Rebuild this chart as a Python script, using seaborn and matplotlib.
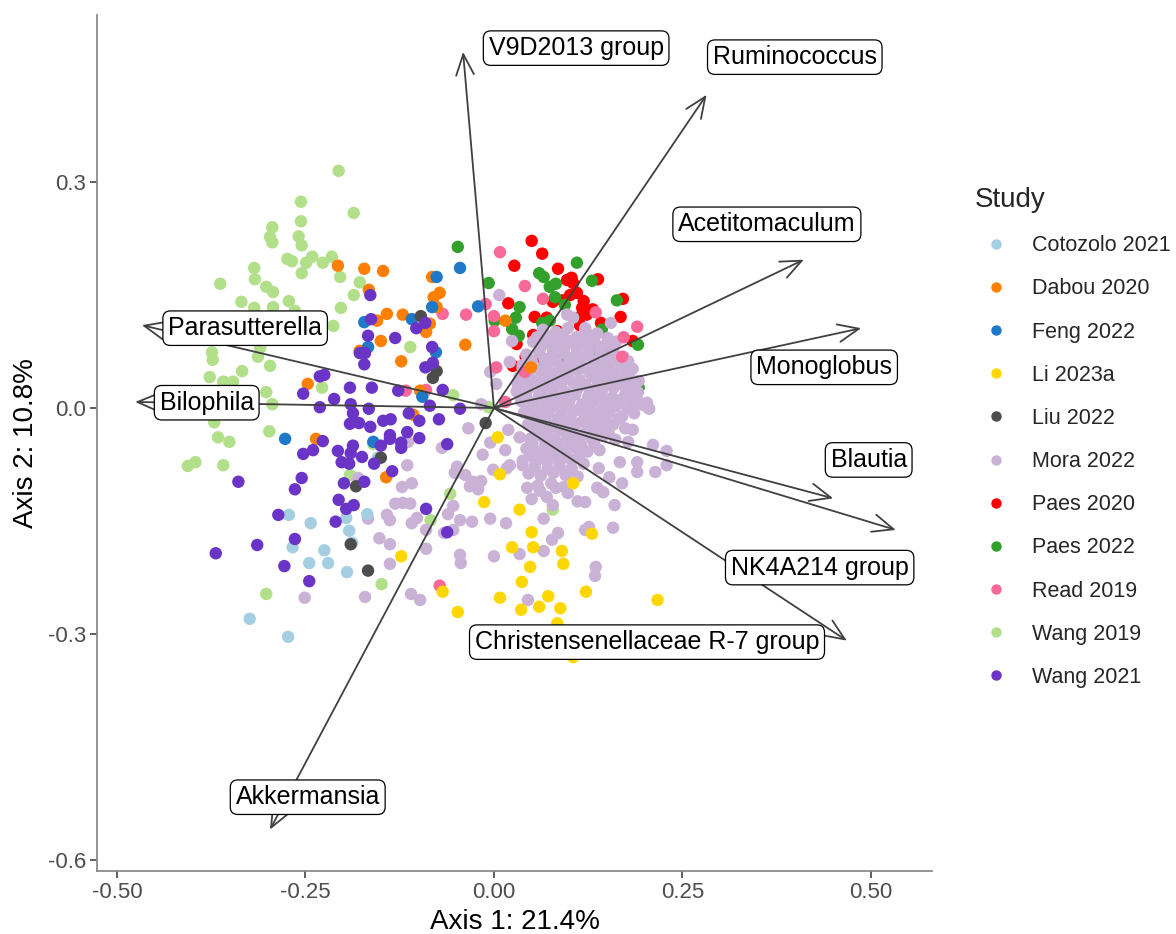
import numpy as np
import pandas as pd
import matplotlib
matplotlib.use("Agg")
import matplotlib.pyplot as plt
from matplotlib.lines import Line2D
import seaborn as sns

# ---------------- data ----------------
studies = ["Cotozolo 2021", "Dabou 2020", "Feng 2022", "Li 2023a", "Liu 2022",
           "Mora 2022", "Paes 2020", "Paes 2022", "Read 2019", "Wang 2019", "Wang 2021"]
colors = ["#A6CEE3", "#FF7F00", "#1F78C8", "#FFD700", "#4D4D4D",
          "#CAB2D6", "#FF0000", "#33A02C", "#F8699A", "#B2DF8A", "#6A35C6"]

wang2019_x = [-0.206, -0.256, -0.186, -0.256, -0.294, -0.297, -0.294, -0.259, -0.255, -0.274,
              -0.268, -0.241, -0.249, -0.227, -0.215, -0.255, -0.204, -0.318, -0.317, -0.363,
              -0.302, -0.293, -0.335, -0.272, -0.178, -0.186, -0.203, -0.318, -0.293, -0.264,
              -0.213, -0.310, -0.313, -0.373, -0.334, -0.297, -0.377, -0.359, -0.346, -0.228,
              -0.111, -0.054, -0.302, -0.294, -0.298, -0.366, -0.351, -0.406, -0.396, -0.359,
              -0.191, -0.160, -0.058, -0.084, -0.149, -0.302, -0.007, 0.078, -0.374, -0.371]
wang2019_y = [0.315, 0.274, 0.259, 0.248, 0.240, 0.227, 0.220, 0.228, 0.216, 0.198,
              0.195, 0.201, 0.193, 0.193, 0.201, 0.179, 0.174, 0.186, 0.171, 0.165,
              0.161, 0.154, 0.141, 0.142, 0.167, 0.150, 0.133, 0.133, 0.134, 0.129,
              0.109, 0.080, 0.068, 0.064, 0.049, 0.056, 0.041, 0.035, 0.035, 0.027,
              0.081, 0.017, 0.021, 0.005, -0.031, -0.039, -0.045, -0.077, -0.072, -0.076,
              -0.089, -0.048, -0.114, -0.149, -0.234, -0.247, 0.001, -0.135, 0.074, -0.019]

wang2021_x = [-0.164, -0.163, -0.167, -0.178, -0.171, -0.172, -0.131, -0.103, -0.091, -0.082,
              -0.081, -0.091, -0.231, -0.225, -0.253, -0.212, -0.191, -0.162, -0.127, -0.068,
              -0.190, -0.231, -0.166, -0.085, -0.187, -0.147, -0.137, -0.113, -0.073, -0.099,
              -0.191, -0.179, -0.164, -0.115, -0.138, -0.138, -0.123, -0.123, -0.099, -0.062,
              -0.150, -0.187, -0.190, -0.207, -0.227, -0.240, -0.253, -0.175, -0.202, -0.192,
              -0.159, -0.135, -0.172, -0.199, -0.255, -0.264, -0.339, -0.206, -0.196, -0.186,
              -0.286, -0.210, -0.090, -0.062, -0.264, -0.314, -0.369, -0.278, -0.245, -0.045]
wang2021_y = [0.150, 0.118, 0.096, 0.073, 0.073, 0.058, 0.093, 0.106, 0.113, 0.081,
              0.060, 0.054, 0.042, 0.044, 0.019, 0.012, 0.027, 0.027, 0.023, 0.024,
              0.005, 0.001, -0.001, 0.003, -0.007, -0.017, -0.015, -0.007, -0.015, -0.017,
              -0.021, -0.020, -0.025, -0.032, -0.036, -0.041, -0.046, -0.053, -0.040, -0.048,
              -0.050, -0.050, -0.060, -0.057, -0.044, -0.056, -0.061, -0.065, -0.072, -0.074,
              -0.074, -0.084, -0.098, -0.100, -0.093, -0.108, -0.098, -0.122, -0.134, -0.129,
              -0.142, -0.151, -0.134, -0.165, -0.174, -0.182, -0.193, -0.210, -0.230, -0.001]

cotozolo_x = [-0.272, -0.243, -0.196, -0.168, -0.192, -0.267, -0.225, -0.245, -0.220, -0.195,
              -0.188, -0.324, -0.273, -0.154]
cotozolo_y = [-0.142, -0.153, -0.146, -0.141, -0.163, -0.185, -0.189, -0.206, -0.206, -0.218,
              -0.179, -0.280, -0.304, -0.066]

dabou_x = [-0.207, -0.172, -0.147, -0.166, -0.142, -0.121, -0.155, -0.150, -0.178, -0.123,
           -0.090, -0.085, -0.080, -0.072, -0.076, -0.082, -0.247, -0.098, -0.038, 0.015,
           -0.236, -0.143, -0.107, 0.049]
dabou_y = [0.189, 0.185, 0.182, 0.157, 0.125, 0.124, 0.116, 0.089, 0.076, 0.062,
           0.101, 0.112, 0.147, 0.153, 0.134, 0.174, 0.032, 0.023, 0.084, 0.116,
           -0.041, -0.092, -0.009, 0.054]

feng_x = [-0.172, -0.167, -0.077, -0.076, -0.082, -0.109, -0.045, -0.021, -0.095, -0.277,
          -0.160]
feng_y = [0.114, 0.081, 0.074, 0.174, 0.134, 0.118, 0.186, 0.135, 0.015, -0.041,
          -0.045]

paes2022_x = [-0.048, -0.007, 0.060, 0.066, 0.074, 0.082, 0.110, 0.130, 0.081, 0.094,
              0.034, 0.029, 0.001, 0.064, 0.074, 0.024, 0.033, 0.143, 0.163, 0.191,
              0.069, 0.093, 0.131, 0.192]
paes2022_y = [0.214, 0.166, 0.179, 0.174, 0.161, 0.165, 0.193, 0.169, 0.147, 0.137,
              0.134, 0.120, 0.116, 0.113, 0.116, 0.105, 0.096, 0.104, 0.143, 0.084,
              0.061, 0.068, 0.076, 0.027]

paes2020_x = [0.050, 0.064, 0.027, 0.085, 0.097, 0.103, 0.105, 0.138, 0.110, 0.101,
              0.119, 0.117, 0.123, 0.114, 0.019, 0.054, 0.070, 0.078, 0.091, 0.084,
              0.052, 0.064, 0.030, 0.142, 0.168, 0.171, 0.143, 0.184, 0.042, 0.025,
              0.058, 0.078, 0.090, 0.114, 0.131]
paes2020_y = [0.222, 0.205, 0.189, 0.185, 0.170, 0.173, 0.166, 0.171, 0.153, 0.150,
              0.142, 0.133, 0.124, 0.121, 0.139, 0.121, 0.120, 0.141, 0.143, 0.102,
              0.097, 0.093, 0.085, 0.113, 0.121, 0.145, 0.081, 0.089, 0.068, 0.056,
              0.062, 0.064, 0.084, 0.110, 0.131]

read_x = [0.008, 0.041, 0.065, -0.011, -0.037, -0.068, 0.000, 0.000, 0.135, 0.190,
          0.172, 0.170, 0.003, 0.015, -0.117, -0.090, -0.072, 0.041]
read_y = [0.207, 0.162, 0.145, 0.138, 0.124, 0.125, 0.122, 0.102, 0.127, 0.108,
          0.094, 0.068, 0.054, 0.008, 0.023, 0.024, -0.236, 0.048]

liu_x = [-0.097, -0.076, -0.081, -0.150, -0.183, -0.190, -0.167, -0.011]
liu_y = [0.122, 0.049, 0.040, -0.066, -0.104, -0.181, -0.216, -0.020]

li_x = [-0.123, -0.068, -0.048, 0.005, 0.008, 0.105, -0.013, 0.034, 0.050, 0.130,
        0.024, 0.052, 0.090, 0.092, 0.048, 0.037, 0.122, 0.008, 0.072, 0.060,
        0.088, 0.036, 0.217, 0.084, 0.105]
li_y = [-0.197, -0.244, -0.271, -0.039, -0.088, -0.100, -0.125, -0.135, -0.165, -0.167,
        -0.185, -0.185, -0.190, -0.207, -0.211, -0.231, -0.244, -0.252, -0.250, -0.264,
        -0.266, -0.268, -0.255, -0.286, -0.331]

mora_x = [
    # dense core
    0.065, 0.082, 0.098, 0.121, 0.137,
    0.052, 0.070, 0.085, 0.101, 0.118, 0.133, 0.150, 0.162,
    0.043, 0.060, 0.077, 0.093, 0.108, 0.125, 0.141, 0.156, 0.172,
    0.038, 0.055, 0.071, 0.088, 0.104, 0.120, 0.136, 0.152, 0.168, 0.184,
    0.034, 0.050, 0.066, 0.082, 0.098, 0.114, 0.131, 0.147, 0.163, 0.179, 0.192,
    0.030, 0.046, 0.063, 0.079, 0.095, 0.111, 0.127, 0.143, 0.159, 0.176, 0.191,
    0.036, 0.052, 0.068, 0.084, 0.100, 0.117, 0.133, 0.149, 0.165, 0.181, 0.198,
    0.040, 0.056, 0.072, 0.089, 0.105, 0.121, 0.137, 0.153, 0.170, 0.186,
    0.045, 0.061, 0.077, 0.093, 0.109, 0.126, 0.142, 0.158, 0.174,
    0.048, 0.064, 0.080, 0.097, 0.113, 0.129, 0.145, 0.161,
    0.043, 0.059, 0.075, 0.092, 0.108, 0.124, 0.140,
    0.038, 0.055, 0.071, 0.087, 0.103, 0.119,
    0.046, 0.062, 0.079, 0.095, 0.111,
    0.058, 0.076, 0.093,
    # core, in-between points
    0.074, 0.091, 0.110, 0.128,
    0.062, 0.078, 0.094, 0.110, 0.126, 0.142, 0.158,
    0.050, 0.067, 0.083, 0.100, 0.116, 0.132, 0.148, 0.164, 0.178,
    0.045, 0.062, 0.078, 0.094, 0.111, 0.127, 0.143, 0.159, 0.175,
    0.040, 0.057, 0.073, 0.089, 0.105, 0.121, 0.138, 0.154, 0.170, 0.185,
    0.043, 0.060, 0.076, 0.092, 0.108, 0.125, 0.141, 0.157, 0.173, 0.189,
    0.046, 0.063, 0.079, 0.095, 0.112, 0.128, 0.144, 0.161, 0.177,
    0.052, 0.068, 0.085, 0.101, 0.117, 0.133, 0.149, 0.166,
    0.055, 0.071, 0.087, 0.104, 0.120, 0.136, 0.152,
    0.051, 0.068, 0.084, 0.100, 0.116, 0.133,
    0.048, 0.064, 0.080, 0.096, 0.112,
    0.054, 0.071, 0.087, 0.103,
    # outskirts
    -0.114, -0.069, -0.115, -0.122, -0.109, -0.131, -0.121, -0.111, -0.142, -0.138,
    -0.167, -0.102, -0.109, -0.090, -0.061, -0.054, -0.050, -0.049, -0.066, -0.152,
    -0.138, -0.090, -0.138, -0.110, -0.098, -0.171, -0.251, -0.180, -0.045, -0.034,
    -0.005, 0.019, 0.034, -0.015, 0.015, -0.001, 0.017, -0.052, -0.038, -0.028,
    -0.017, -0.032, -0.021, -0.045, -0.029, -0.005, 0.016, -0.054, -0.044, 0.000,
    0.034, 0.066, 0.077, 0.085, 0.121, 0.126, 0.158, 0.135, 0.134, 0.045,
    0.044, 0.050, 0.061, 0.070, 0.082, 0.098, 0.111, 0.121, 0.137, 0.145,
    0.160, 0.170, 0.066, 0.078, 0.038, 0.021, 0.190, 0.211, 0.229, 0.214,
    0.229, 0.190, 0.178, 0.204, 0.184, 0.167, 0.153, 0.139,
    0.007, 0.024, 0.057, 0.097, 0.105, 0.155, 0.151, 0.121, 0.123, -0.005,
    0.003, -0.017, 0.031, 0.038, 0.021, 0.176, 0.203, 0.206, 0.190, 0.174]
mora_y = [
    0.104, 0.101, 0.106, 0.102, 0.099,
    0.088, 0.090, 0.086, 0.089, 0.087, 0.091, 0.085, 0.088,
    0.071, 0.074, 0.070, 0.073, 0.069, 0.072, 0.075, 0.071, 0.068,
    0.057, 0.054, 0.058, 0.055, 0.057, 0.053, 0.058, 0.055, 0.057, 0.052,
    0.041, 0.038, 0.042, 0.039, 0.041, 0.037, 0.042, 0.040, 0.038, 0.043, 0.036,
    0.022, 0.026, 0.023, 0.025, 0.021, 0.026, 0.024, 0.022, 0.027, 0.023, 0.021,
    0.009, 0.006, 0.010, 0.007, 0.009, 0.005, 0.010, 0.008, 0.006, 0.011, 0.004,
    -0.006, -0.010, -0.007, -0.009, -0.005, -0.010, -0.008, -0.006, -0.011, -0.007,
    -0.022, -0.026, -0.023, -0.025, -0.021, -0.026, -0.024, -0.022, -0.027,
    -0.041, -0.038, -0.042, -0.039, -0.043, -0.040, -0.037, -0.042,
    -0.054, -0.058, -0.055, -0.057, -0.053, -0.058, -0.056,
    -0.070, -0.074, -0.071, -0.073, -0.069, -0.074,
    -0.087, -0.090, -0.086, -0.089, -0.091,
    -0.103, -0.100, -0.105,
    0.095, 0.097, 0.094, 0.096,
    0.081, 0.079, 0.082, 0.078, 0.080, 0.081, 0.077,
    0.063, 0.065, 0.062, 0.064, 0.066, 0.063, 0.061, 0.065, 0.062,
    0.047, 0.049, 0.046, 0.048, 0.050, 0.047, 0.049, 0.046, 0.048,
    0.031, 0.033, 0.030, 0.032, 0.034, 0.031, 0.033, 0.030, 0.032, 0.029,
    0.015, 0.017, 0.014, 0.016, 0.018, 0.015, 0.017, 0.014, 0.016, 0.013,
    0.001, -0.001, 0.002, 0.000, -0.002, 0.001, -0.001, 0.002, 0.000,
    -0.015, -0.017, -0.014, -0.016, -0.018, -0.015, -0.017, -0.014,
    -0.031, -0.033, -0.030, -0.032, -0.034, -0.031, -0.033,
    -0.047, -0.049, -0.046, -0.048, -0.050, -0.047,
    -0.063, -0.065, -0.062, -0.064, -0.066,
    -0.079, -0.081, -0.078, -0.080,
    -0.045, -0.053, -0.076, -0.105, -0.100, -0.127, -0.126, -0.127, -0.142, -0.149,
    -0.147, -0.146, -0.153, -0.162, -0.141, -0.130, -0.086, -0.078, -0.166, -0.173,
    -0.181, -0.187, -0.207, -0.247, -0.255, -0.251, -0.252, -0.093, -0.195, -0.027,
    -0.046, -0.029, -0.039, -0.062, -0.056, -0.082, -0.080, -0.086, -0.089, -0.098,
    -0.097, -0.104, -0.108, -0.149, -0.151, -0.147, -0.153, -0.162, -0.206, -0.197,
    -0.194, -0.190, -0.175, -0.166, -0.162, -0.158, -0.159, -0.211, -0.223, -0.255,
    -0.106, -0.121, -0.110, -0.118, -0.106, -0.113, -0.124, -0.125, -0.106, -0.112,
    -0.129, -0.100, -0.147, -0.129, -0.076, -0.076, -0.072, -0.049, -0.057, -0.085,
    -0.076, -0.085, -0.045, 0.001, -0.029, -0.072, -0.092, -0.080,
    0.150, 0.089, 0.094, 0.124, 0.120, 0.113, 0.093, 0.106, 0.100, 0.048,
    0.032, 0.005, 0.033, 0.053, 0.061, 0.060, 0.007, -0.001, 0.008, 0.039]

# biplot loadings (arrow tips) and label positions
taxa = ["V9D2013 group", "Ruminococcus", "Acetitomaculum", "Monoglobus", "Blautia",
        "NK4A214 group", "Christensenellaceae R-7 group", "Parasutterella", "Bilophila",
        "Akkermansia"]
tip_x = [-0.041, 0.282, 0.411, 0.487, 0.450, 0.533, 0.468, -0.467, -0.476, -0.297]
tip_y = [0.473, 0.416, 0.197, 0.106, -0.120, -0.162, -0.309, 0.110, 0.008, -0.560]
lab_x = [0.109, 0.399, 0.362, 0.438, 0.497, 0.432, 0.203, -0.330, -0.381, -0.247]
lab_y = [0.478, 0.466, 0.244, 0.054, -0.069, -0.212, -0.311, 0.106, 0.007, -0.517]

x_ticks = [-0.50, -0.25, 0.00, 0.25, 0.50]
y_ticks = [-0.6, -0.3, 0.0, 0.3]

# ---------------- build table (draw order) ----------------
series = {
    "Wang 2019": (wang2019_x, wang2019_y),
    "Paes 2020": (paes2020_x, paes2020_y),
    "Paes 2022": (paes2022_x, paes2022_y),
    "Mora 2022": (mora_x, mora_y),
    "Read 2019": (read_x, read_y),
    "Li 2023a": (li_x, li_y),
    "Cotozolo 2021": (cotozolo_x, cotozolo_y),
    "Dabou 2020": (dabou_x, dabou_y),
    "Feng 2022": (feng_x, feng_y),
    "Liu 2022": (liu_x, liu_y),
    "Wang 2021": (wang2021_x, wang2021_y),
}
frames = [pd.DataFrame({"Axis1": xs, "Axis2": ys, "Study": name})
          for name, (xs, ys) in series.items()]
df = pd.concat(frames, ignore_index=True)
palette = dict(zip(studies, colors))

# ---------------- plot ----------------
sns.set_theme(style="white")
plt.rcParams["font.family"] = ["Liberation Sans", "DejaVu Sans"]

fig = plt.figure(figsize=(11.76, 9.34), dpi=100)
ax = fig.add_axes([97 / 1176, 1 - 871 / 934, (932 - 97) / 1176, (871 - 15) / 934])

sns.scatterplot(data=df, x="Axis1", y="Axis2", hue="Study", hue_order=studies,
                palette=palette, s=80, linewidth=0, alpha=1, ax=ax, legend=False,
                zorder=2)

arrow_col = "#404040"
for name, tx, ty in zip(taxa, tip_x, tip_y):
    ax.annotate("", xy=(tx, ty), xytext=(0, 0),
                arrowprops=dict(arrowstyle="->,head_length=0.75,head_width=0.32",
                                color=arrow_col, lw=1.3, shrinkA=0, shrinkB=0,
                                mutation_scale=20),
                zorder=3)
for name, lx, ly in zip(taxa, lab_x, lab_y):
    ax.text(lx, ly, name, ha="center", va="center", fontsize=18, color="black",
            zorder=5,
            bbox=dict(boxstyle="round,pad=0.21,rounding_size=0.3", fc="white",
                      ec="black", lw=0.9))

ax.set_xlim(-0.5265, 0.581)
ax.set_ylim(-0.615, 0.522)
ax.set_xticks(x_ticks)
ax.set_xticklabels([f"{v:.2f}" for v in x_ticks])
ax.set_yticks(y_ticks)
ax.set_yticklabels([f"{v:.1f}" for v in y_ticks])
ax.set_xlabel("Axis 1: 21.4%", fontsize=20, color="black", labelpad=4)
ax.set_ylabel("Axis 2: 10.8%", fontsize=20, color="black", labelpad=6)
ax.tick_params(axis="both", which="both", length=5, width=1.1, color="#333333",
               labelsize=16, labelcolor="#4D4D4D", pad=3, bottom=True, left=True)
for side in ["top", "right"]:
    ax.spines[side].set_visible(False)
for side in ["left", "bottom"]:
    ax.spines[side].set_color("#8A8A8A")
    ax.spines[side].set_linewidth(1.3)
ax.grid(False)

handles = [Line2D([0], [0], marker="o", linestyle="", markersize=7.5,
                  markerfacecolor=c, markeredgewidth=0) for c in colors]
leg = fig.legend(handles, studies, title="Study", loc="upper left",
                 bbox_to_anchor=(975 / 1176, 1 - 187 / 934),
                 bbox_transform=fig.transFigure, frameon=False, fontsize=15.5,
                 title_fontsize=20, alignment="left", borderpad=0, borderaxespad=0,
                 handlelength=1.95, handletextpad=0.7, labelspacing=1.03)

fig.savefig("out.png", dpi=100)
